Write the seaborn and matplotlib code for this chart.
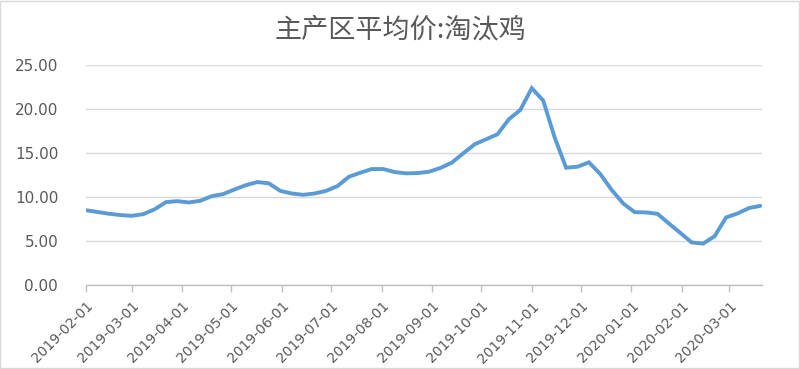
import matplotlib
matplotlib.use("Agg")
import matplotlib.pyplot as plt
import matplotlib.dates as mdates
import seaborn as sns
import pandas as pd
import numpy as np

# ---- data (weekly) ----
start_date = "2019-02-01"
prices = [8.50, 8.30, 8.10, 7.95, 7.86, 8.05, 8.60, 9.42, 9.53, 9.38,
          9.57, 10.10, 10.33, 10.86, 11.35, 11.70, 11.55, 10.70, 10.40, 10.25,
          10.40, 10.70, 11.24, 12.30, 12.76, 13.18, 13.18, 12.84, 12.69, 12.72,
          12.87, 13.30, 13.90, 14.96, 15.99, 16.56, 17.13, 18.84, 19.90, 22.37,
          20.96, 16.79, 13.33, 13.44, 13.94, 12.60, 10.79, 9.27, 8.28, 8.25,
          8.09, 6.99, 5.92, 4.83, 4.71, 5.55, 7.68, 8.13, 8.74, 9.00]
dates = pd.date_range(start_date, periods=len(prices), freq="7D")
month_ticks = pd.date_range("2019-02-01", "2020-03-01", freq="MS")
y_ticks = [0, 5, 10, 15, 20, 25]
title = "主产区平均价:淘汰鸡"

df = pd.DataFrame({"date": dates, "price": prices})

sns.set_theme(style="white")
plt.rcParams["font.family"] = ["DejaVu Sans"]

fig = plt.figure(figsize=(8.0, 3.69), dpi=100)
ax = fig.add_axes([0.1075, 0.2276, 0.845, 0.5962])

sns.lineplot(data=df, x="date", y="price", ax=ax, color="#5B9BD5",
             linewidth=2.8, solid_joinstyle="miter")

ax.set_xlim(pd.Timestamp("2019-02-01"), pd.Timestamp("2020-03-21"))
ax.set_ylim(0, 25)
ax.set_yticks(y_ticks)
ax.set_yticklabels([f"{v:.2f}" for v in y_ticks])
ax.set_xticks(month_ticks)
ax.set_xticklabels([d.strftime("%Y-%m-%d") for d in month_ticks],
                   rotation=45, ha="right", rotation_mode="anchor")

ax.grid(axis="y", color="#d9d9d9", linewidth=1.0)
ax.grid(axis="x", visible=False)
ax.set_axisbelow(True)
for s in ["top", "right", "left"]:
    ax.spines[s].set_visible(False)
ax.spines["bottom"].set_color("#bfbfbf")
ax.spines["bottom"].set_linewidth(1.0)

ax.tick_params(axis="y", length=0, labelsize=11, labelcolor="#595959", pad=20)
ax.tick_params(axis="x", length=5, width=1, color="#bfbfbf", direction="out",
               labelsize=10, labelcolor="#595959", pad=5, bottom=True)
ax.set_xlabel("")
ax.set_ylabel("")

fig.text(0.5, 0.918, title, ha="center", va="center", fontsize=19.5,
         color="#595959", family=["Noto Sans CJK SC", "DejaVu Sans"])

# chart border
fig.patches.append(plt.Rectangle((0.0005, 0.002), 0.998, 0.996, transform=fig.transFigure,
                                 fill=False, edgecolor="#d9d9d9", linewidth=1.0))

fig.savefig("out.png", dpi=100)
